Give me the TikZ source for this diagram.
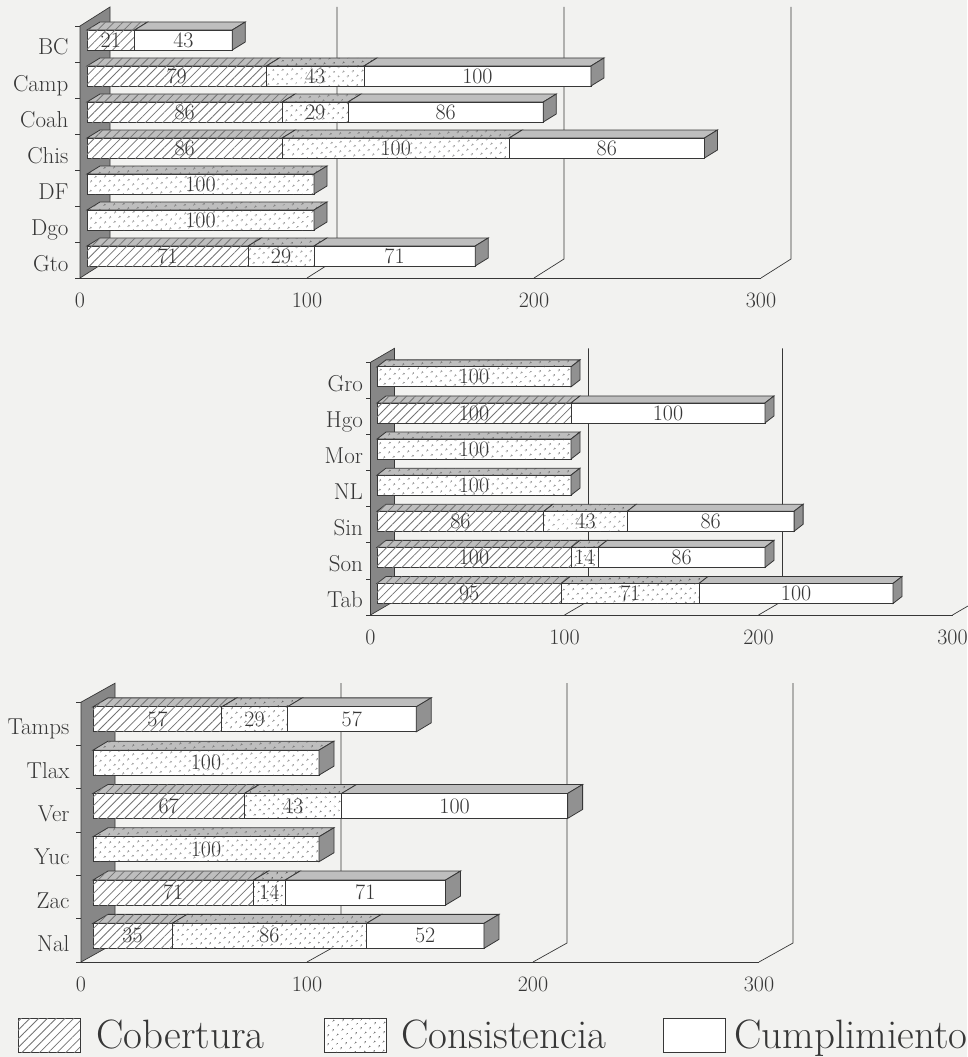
\documentclass[tikz,border=0pt]{standalone}
\usepackage{tikz}
\usetikzlibrary{calc,patterns.meta}
\definecolor{paper}{RGB}{242,242,240}
\definecolor{line_gray}{RGB}{55,55,55}
\definecolor{wall_gray}{RGB}{135,135,135}
\definecolor{top_gray}{RGB}{190,190,190}
\definecolor{cap_gray}{RGB}{145,145,145}

\tikzset{
  barline/.style={draw=line_gray,line width=0.8pt},
  grid/.style={draw=line_gray,line width=0.7pt},
  wall/.style={draw=line_gray,line width=0.7pt,fill=wall_gray},
  cob/.style={fill=white,postaction={pattern={Lines[angle=45,distance=6.2pt,line width=0.8pt]},pattern color=black!55}},
  con/.style={fill=white,postaction={pattern={Dots[angle=45,distance=6.5pt,radius=0.95pt]},pattern color=black!70}},
  cum/.style={fill=white},
  barlabel/.style={text=line_gray,inner sep=0pt},
  rowlabel/.style={anchor=base east,xshift=-8pt,yshift=-11pt,text=line_gray,font=\fontsize{23}{23}\selectfont},
  ticklabel/.style={anchor=base,yshift=-29pt,text=line_gray},
  legtext/.style={anchor=base west,text=line_gray,font=\fontsize{41}{43}\selectfont}
}

% one stacked piece of a bar: row, from, to, style, label
\newcommand{\seg}[5]{%
  \path ([xshift=\fx,yshift=\fy]#2,#1+.5) coordinate (sa) ([xshift=\fx,yshift=\fy]#3,#1+.5) coordinate (sb);
  \draw[barline,#4,fill=top_gray] ([yshift=\bh]sa) -- ++(\dx,\dy) -- ([shift={(\dx,\bh+\dy)}]sb) -- ([yshift=\bh]sb) -- cycle;
  \draw[barline,#4] ([yshift=-\bh]sa) rectangle ([yshift=\bh]sb);
  \node[barlabel] (\cid-#1-#2) at ($(sa)!.5!(sb)$) {#5};
}
% dark end of a bar: row, end value
\newcommand{\capend}[2]{%
  \path ([xshift=\fx,yshift=\fy]#2,#1+.5) coordinate (se);
  \draw[barline,fill=cap_gray] ([yshift=\bh]se) -- ++(\dx,\dy) -- ++(0pt,-2*\bh) -- ([yshift=-\bh]se) -- cycle;
}

\begin{document}
\begin{tikzpicture}[x=1pt,y=-1pt,font=\fontsize{22}{22}\selectfont]
  \useasboundingbox[fill=paper] (0,0) rectangle (967,1057);

  % first chart
  \begin{scope}[shift={(80,278)},x={(2.27pt,0pt)},y={(0pt,36pt)}]
    \def\cid{a}\def\fx{7pt}\def\fy{4pt}\def\bh{10pt}\def\dx{13pt}\def\dy{8pt}
    \def\wx{30pt}\def\wy{19pt}
    \draw[wall] (0,0) -- (0,7) -- ++(\wx,\wy) -- ([shift={(\wx,\wy)}]0,0) -- cycle;
    \draw[grid] (0,0) -- (300,0);
    \draw[grid] (100,0) -- ++(\wx,\wy) -- ([shift={(\wx,\wy)}]100,7);
    \draw[grid] (200,0) -- ++(\wx,\wy) -- ([shift={(\wx,\wy)}]200,7);
    \draw[grid] (300,0) -- ++(\wx,\wy) -- ([shift={(\wx,\wy)}]300,7);
    \foreach \k in {0,...,7} \draw[grid] (0,\k) -- ++(-5pt,0pt);

    \seg{6}{0}{21}{cob}{21}   \seg{6}{21}{64}{cum}{43}   \capend{6}{64}
    \seg{5}{0}{79}{cob}{79}   \seg{5}{79}{122}{con}{43}  \seg{5}{122}{222}{cum}{100} \capend{5}{222}
    \seg{4}{0}{86}{cob}{86}   \seg{4}{86}{115}{con}{29}  \seg{4}{115}{201}{cum}{86}  \capend{4}{201}
    \seg{3}{0}{86}{cob}{86}   \seg{3}{86}{186}{con}{100} \seg{3}{186}{272}{cum}{86}  \capend{3}{272}
    \seg{2}{0}{100}{con}{100} \capend{2}{100}
    \seg{1}{0}{100}{con}{100} \capend{1}{100}
    \seg{0}{0}{71}{cob}{71}   \seg{0}{71}{100}{con}{29}  \seg{0}{100}{171}{cum}{71}  \capend{0}{171}

    \node[rowlabel] (bc) at (0,6.5) {BC};
    \node[rowlabel] (camp) at (0,5.5) {Camp};
    \node[rowlabel] (coah) at (0,4.5) {Coah};
    \node[rowlabel] (chis) at (0,3.5) {Chis};
    \node[rowlabel] (df) at (0,2.5) {DF};
    \node[rowlabel] (dgo) at (0,1.5) {Dgo};
    \node[rowlabel] (gto) at (0,0.5) {Gto};
    \node[ticklabel] (a-t0) at (0,0) {0};
    \node[ticklabel] (a-t100) at (100,0) {100};
    \node[ticklabel] (a-t200) at (200,0) {200};
    \node[ticklabel] (a-t300) at (300,0) {300};
  \end{scope}

  % second chart
  \begin{scope}[shift={(370.5,615)},x={(1.94pt,0pt)},y={(0pt,36.1pt)},rowlabel/.append style={xshift=4pt}]
    \def\cid{b}\def\fx{6.5pt}\def\fy{3.5pt}\def\bh{10pt}\def\dx{9pt}\def\dy{7pt}
    \def\wx{24pt}\def\wy{14pt}
    \draw[wall] (0,0) -- (0,7) -- ++(\wx,\wy) -- ([shift={(\wx,\wy)}]0,0) -- cycle;
    \draw[grid] (0,0) -- (300,0);
    \draw[grid] (100,0) -- ++(\wx,\wy) -- ([shift={(\wx,\wy)}]100,7);
    \draw[grid] (200,0) -- ++(\wx,\wy) -- ([shift={(\wx,\wy)}]200,7);
    \draw[grid] (300,0) -- ++(\wx,\wy) -- ([shift={(\wx,\wy)}]300,7);
    \foreach \k in {0,...,7} \draw[grid] (0,\k) -- ++(-5pt,0pt);

    \seg{6}{0}{100}{con}{100} \capend{6}{100}
    \seg{5}{0}{100}{cob}{100} \seg{5}{100}{200}{cum}{100} \capend{5}{200}
    \seg{4}{0}{100}{con}{100} \capend{4}{100}
    \seg{3}{0}{100}{con}{100} \capend{3}{100}
    \seg{2}{0}{86}{cob}{86}   \seg{2}{86}{129}{con}{43}  \seg{2}{129}{215}{cum}{86}  \capend{2}{215}
    \seg{1}{0}{100}{cob}{100} \seg{1}{100}{114}{con}{14} \seg{1}{114}{200}{cum}{86}  \capend{1}{200}
    \seg{0}{0}{95}{cob}{95}   \seg{0}{95}{166}{con}{71}  \seg{0}{166}{266}{cum}{100} \capend{0}{266}

    \node[rowlabel] (gro) at (0,6.5) {Gro};
    \node[rowlabel] (hgo) at (0,5.5) {Hgo};
    \node[rowlabel] (mor) at (0,4.5) {Mor};
    \node[rowlabel] (nl) at (0,3.5) {NL};
    \node[rowlabel] (sin) at (0,2.5) {Sin};
    \node[rowlabel] (son) at (0,1.5) {Son};
    \node[rowlabel] (tab) at (0,0.5) {Tab};
    \node[ticklabel] (b-t0) at (0,0) {0};
    \node[ticklabel] (b-t100) at (100,0) {100};
    \node[ticklabel] (b-t200) at (200,0) {200};
    \node[ticklabel] (b-t300) at (300,0) {300};
  \end{scope}

  % third chart
  \begin{scope}[shift={(81,962)},x={(2.26pt,0pt)},y={(0pt,43.3pt)}]
    \def\cid{c}\def\fx{12pt}\def\fy{4.5pt}\def\bh{12.5pt}\def\dx{15pt}\def\dy{9pt}
    \def\wx{34pt}\def\wy{19pt}
    \draw[wall] (0,0) -- (0,6) -- ++(\wx,\wy) -- ([shift={(\wx,\wy)}]0,0) -- cycle;
    \draw[grid] (0,0) -- (300,0);
    \draw[grid] (100,0) -- ++(\wx,\wy) -- ([shift={(\wx,\wy)}]100,6);
    \draw[grid] (200,0) -- ++(\wx,\wy) -- ([shift={(\wx,\wy)}]200,6);
    \draw[grid] (300,0) -- ++(\wx,\wy) -- ([shift={(\wx,\wy)}]300,6);
    \foreach \k in {0,...,6} \draw[grid] (0,\k) -- ++(-5pt,0pt);

    \seg{5}{0}{57}{cob}{57}   \seg{5}{57}{86}{con}{29}   \seg{5}{86}{143}{cum}{57}  \capend{5}{143}
    \seg{4}{0}{100}{con}{100} \capend{4}{100}
    \seg{3}{0}{67}{cob}{67}   \seg{3}{67}{110}{con}{43}  \seg{3}{110}{210}{cum}{100} \capend{3}{210}
    \seg{2}{0}{100}{con}{100} \capend{2}{100}
    \seg{1}{0}{71}{cob}{71}   \seg{1}{71}{85}{con}{14}   \seg{1}{85}{156}{cum}{71}  \capend{1}{156}
    \seg{0}{0}{35}{cob}{35}   \seg{0}{35}{121}{con}{86}  \seg{0}{121}{173}{cum}{52}  \capend{0}{173}

    \node[rowlabel] (tamps) at (0,5.5) {Tamps};
    \node[rowlabel] (tlax) at (0,4.5) {Tlax};
    \node[rowlabel] (ver) at (0,3.5) {Ver};
    \node[rowlabel] (yuc) at (0,2.5) {Yuc};
    \node[rowlabel] (zac) at (0,1.5) {Zac};
    \node[rowlabel] (nal) at (0,0.5) {Nal};
    \node[ticklabel] (c-t0) at (0,0) {0};
    \node[ticklabel] (c-t100) at (100,0) {100};
    \node[ticklabel] (c-t200) at (200,0) {200};
    \node[ticklabel] (c-t300) at (300,0) {300};
  \end{scope}

  % legend
  \draw[barline,cob] (18,1018) rectangle (80,1052);
  \node[legtext] (leg_cob) at (93,1048) {Cobertura};
  \draw[barline,con] (324,1018) rectangle (386,1052);
  \node[legtext] (leg_con) at (398,1048) {Consistencia};
  \draw[barline,cum] (663,1018) rectangle (725,1052);
  \node[legtext] (leg_cum) at (731,1048) {Cumplimiento};
\end{tikzpicture}
\end{document}
